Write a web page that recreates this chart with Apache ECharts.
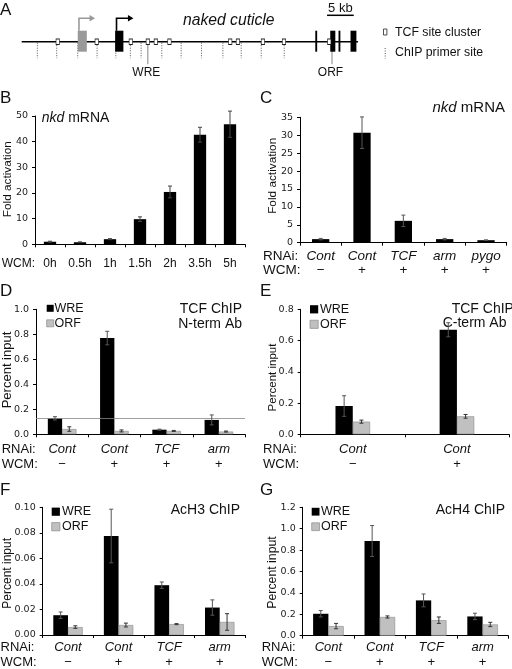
<!DOCTYPE html>
<html><head><meta charset="utf-8">
<script src="https://cdn.jsdelivr.net/npm/echarts@6/dist/echarts.min.js"></script>
<style>html,body{margin:0;padding:0;background:#fff}#c{width:512px;height:669px}</style>
</head><body><div id="c"></div>
<script>
// ---------- Panel A: nkd locus (positions in kb) ----------
var locusKb = [0, 63];
var tcfSitesKb = [6.75, 14.06, 20.44, 23.63, 25.13, 27.68, 39.06, 40.5, 45.19, 49.13, 57.62];
var primerSitesKb = [2.93, 6.56, 10.5, 14.12, 17.63, 20.36, 22.37, 23.63, 26.25, 29.87, 33.68, 37.69, 41.12, 44.87, 49.18, 58.13];
var primerLabels = ['', '', '', '', '', '', '', 'WRE', '', '', '', '', '', '', '', 'ORF'];
var exonsKb = [[10.5, 12.2], [17.5, 19.05], [55.0, 55.35], [57.8, 58.75], [59.35, 59.7], [61.6, 62.7]];
var exonShade = [0, 1, 1, 1, 1, 1];          // 0 = alternative (gray), 1 = main (black)
var promotersKb = [[10.6, 13.74], [17.63, 20.93]]; // [TSS, arrow tip]
var promoterShade = [0, 1];
var scaleBarKb = [57.2, 62.2];

// ---------- Panel B ----------
var bCats = ['0h', '0.5h', '1h', '1.5h', '2h', '3.5h', '5h'];
var bFold = [1.0, 0.8, 2.0, 9.8, 20.4, 42.7, 46.8];
var bFoldErr = [0.2, 0.15, 0.2, 0.9, 2.3, 2.9, 5.1];
var bTicks = [0, 10, 20, 30, 40, 50];

// ---------- Panel C ----------
var cRNAi = ['Cont', 'Cont', 'TCF', 'arm', 'pygo'];
var cWCM = ['\u2212', '+', '+', '+', '+'];
var cFold = [1.0, 30.7, 6.1, 1.0, 0.7];
var cFoldErr = [0.2, 4.4, 1.6, 0.2, 0.1];
var cTicks = [0, 5, 10, 15, 20, 25, 30, 35];

// ---------- Panel D ----------
var dRNAi = ['Cont', 'Cont', 'TCF', 'arm'];
var dWCM = ['\u2212', '+', '+', '+'];
var dWRE = [0.128, 0.770, 0.037, 0.115];
var dWREErr = [0.013, 0.054, 0.004, 0.040];
var dORF = [0.042, 0.027, 0.027, 0.022];
var dORFErr = [0.018, 0.008, 0.004, 0.004];
var dThreshold = 0.133;
var dTicks = [0, 0.2, 0.4, 0.6, 0.8, 1.0];

// ---------- Panel E ----------
var eRNAi = ['Cont', 'Cont'];
var eWCM = ['\u2212', '+'];
var eWRE = [0.181, 0.669];
var eWREErr = [0.066, 0.045];
var eORF = [0.081, 0.115];
var eORFErr = [0.010, 0.012];
var eTicks = [0, 0.2, 0.4, 0.6, 0.8];

// ---------- Panel F ----------
var fRNAi = ['Cont', 'Cont', 'TCF', 'arm'];
var fWCM = ['\u2212', '+', '+', '+'];
var fWRE = [0.0155, 0.0775, 0.0390, 0.0215];
var fWREErr = [0.0025, 0.0210, 0.0025, 0.0060];
var fORF = [0.0062, 0.0078, 0.0085, 0.0102];
var fORFErr = [0.0010, 0.0015, 0.0004, 0.0065];
var fTicks = [0, 0.02, 0.04, 0.06, 0.08, 0.10];

// ---------- Panel G ----------
var gRNAi = ['Cont', 'Cont', 'TCF', 'arm'];
var gWCM = ['\u2212', '+', '+', '+'];
var gWRE = [0.205, 0.885, 0.330, 0.180];
var gWREErr = [0.030, 0.145, 0.060, 0.030];
var gORF = [0.090, 0.175, 0.145, 0.105];
var gORFErr = [0.025, 0.010, 0.030, 0.020];
var gTicks = [0, 0.2, 0.4, 0.6, 0.8, 1.0, 1.2];

// ================= build =================
var SANS = 'Liberation Sans';
var TICKF = 'DejaVu Sans';
var GRAY = '#c0c0c0';

var grids = [
  {left: 21.7, top: 11.7, width: 336.3, height: 60},
  {left: 35, top: 116, width: 210, height: 128.3},
  {left: 300, top: 117.3, width: 206.7, height: 125.4},
  {left: 36, top: 309.3, width: 209, height: 125},
  {left: 300.7, top: 309.3, width: 208.3, height: 125},
  {left: 42.7, top: 507.3, width: 202.3, height: 127.7},
  {left: 302.7, top: 507.3, width: 205.6, height: 128.4}
];
grids.forEach(function (g) { g.outerBoundsMode = 'none'; g.containLabel = false; });

var xAxes = [], yAxes = [], series = [];

// Panel A axes (hidden)
xAxes.push({type: 'value', gridIndex: 0, min: locusKb[0], max: locusKb[1], show: false});
yAxes.push({type: 'value', gridIndex: 0, min: -1.5, max: 1.5, show: false});

function yAx(gi, ticks, dec) {
  var step = ticks[1] - ticks[0];
  return {type: 'value', gridIndex: gi, min: ticks[0], max: ticks[ticks.length - 1], interval: step,
    axisLine: {show: true, lineStyle: {color: '#000', width: 1}},
    axisTick: {show: true, length: 3, lineStyle: {color: '#000'}},
    splitLine: {show: false},
    axisLabel: {fontFamily: TICKF, fontSize: 9.5, color: '#222', margin: 7,
      formatter: function (v) { return (+v).toFixed(dec); }}};
}
function xAxTwo(gi, rnai, wcm, margin, lh, fs) {
  return {type: 'category', gridIndex: gi, data: rnai.map(function (_, i) { return String(i); }),
    axisLine: {lineStyle: {color: '#000', width: 1}},
    axisTick: {show: true, length: 3, lineStyle: {color: '#000'}},
    axisLabel: {interval: 0, margin: margin, color: '#111',
      formatter: function (v, i) { return '{a|' + rnai[i] + '}\n{b|' + wcm[i] + '}'; },
      rich: {a: {fontFamily: SANS, fontStyle: 'italic', fontSize: fs, lineHeight: lh, color: '#111'},
             b: {fontFamily: SANS, fontSize: fs, lineHeight: lh, color: '#111'}}}};
}

function errSeries(gi, vals, errs, offset, color) {
  return {type: 'custom', xAxisIndex: gi, yAxisIndex: gi, silent: true, z: 6,
    encode: {x: 0, y: [1, 2]},
    data: vals.map(function (v, i) { return [i, Math.max(0, v - errs[i]), v + errs[i]]; }),
    renderItem: function (params, api) {
      var lo = api.coord([api.value(0), api.value(1)]);
      var hi = api.coord([api.value(0), api.value(2)]);
      var x = lo[0] + offset, c = 2;
      var st = {stroke: color, lineWidth: 1};
      return {type: 'group', children: [
        {type: 'line', shape: {x1: x, y1: lo[1], x2: x, y2: hi[1]}, style: st},
        {type: 'line', shape: {x1: x - c, y1: hi[1], x2: x + c, y2: hi[1]}, style: st},
        {type: 'line', shape: {x1: x - c, y1: lo[1], x2: x + c, y2: lo[1]}, style: st}
      ]};
    }};
}
function barS(gi, name, vals, bw, color, border) {
  return {type: 'bar', name: name, xAxisIndex: gi, yAxisIndex: gi, data: vals, barWidth: bw, barGap: '0%',
    silent: true, itemStyle: {color: color, borderColor: border || color, borderWidth: border ? 0.6 : 0}};
}

// ---- Panel A series ----
series.push({type: 'line', xAxisIndex: 0, yAxisIndex: 0, silent: true, symbol: 'none', z: 2,
  data: [[locusKb[0], 0], [locusKb[1], 0]], lineStyle: {color: '#000', width: 1.5}});
series.push({type: 'custom', xAxisIndex: 0, yAxisIndex: 0, silent: true, z: 1,
  data: primerSitesKb.map(function (k, i) { return [k, i]; }),
  renderItem: function (params, api) {
    var p = api.coord([api.value(0), 0]);
    var lab = primerLabels[api.value(1)];
    if (!lab) {
      return {type: 'line', shape: {x1: p[0], y1: p[1] + 1, x2: p[0], y2: p[1] + 16.5},
        style: {stroke: '#555', lineWidth: 1, lineDash: [1, 1.5]}};
    }
    return {type: 'group', children: [
      {type: 'line', shape: {x1: p[0], y1: p[1] + 1, x2: p[0], y2: p[1] + 22.5},
        style: {stroke: '#666', lineWidth: 0.8}},
      {type: 'text', x: p[0] - 1.5, y: p[1] + 30.5,
        style: {text: lab, fontFamily: SANS, fontSize: 12, fill: '#111', align: 'center', verticalAlign: 'middle'}}
    ]};
  }});
series.push({type: 'custom', xAxisIndex: 0, yAxisIndex: 0, silent: true, z: 3,
  data: exonsKb.map(function (e, i) { return [e[0], e[1], exonShade[i]]; }),
  renderItem: function (params, api) {
    var s = api.coord([api.value(0), 0]), e = api.coord([api.value(1), 0]);
    return {type: 'rect', shape: {x: s[0], y: s[1] - 11, width: Math.max(e[0] - s[0], 1.6), height: 21},
      style: {fill: api.value(2) === 0 ? '#999' : '#000'}};
  }});
series.push({type: 'custom', xAxisIndex: 0, yAxisIndex: 0, silent: true, z: 3,
  data: promotersKb.map(function (p, i) { return [p[0], p[1], promoterShade[i]]; }),
  renderItem: function (params, api) {
    var s = api.coord([api.value(0), 0]), t = api.coord([api.value(1), 0]);
    var col = api.value(2) === 0 ? '#999' : '#000';
    var y = s[1] - 23.4;
    return {type: 'group', children: [
      {type: 'polyline', shape: {points: [[s[0] + 0.7, s[1] - 11], [s[0] + 0.7, y], [t[0] - 5, y]]},
        style: {stroke: col, lineWidth: 1.6, fill: null}},
      {type: 'polygon', shape: {points: [[t[0] - 5.5, y - 3.2], [t[0], y], [t[0] - 5.5, y + 3.2]]},
        style: {fill: col}}
    ]};
  }});
series.push({type: 'scatter', xAxisIndex: 0, yAxisIndex: 0, silent: true, z: 5,
  data: tcfSitesKb.map(function (k) { return [k, 0]; }),
  symbol: 'rect', symbolSize: [3.4, 5.4],
  itemStyle: {color: '#fff', borderColor: '#222', borderWidth: 0.8, opacity: 1}});
series.push({type: 'custom', xAxisIndex: 0, yAxisIndex: 0, silent: true, z: 3,
  data: [[scaleBarKb[0], scaleBarKb[1]]],
  renderItem: function (params, api) {
    var a = api.coord([api.value(0), 0]), b = api.coord([api.value(1), 0]);
    var y = a[1] - 26.4;
    return {type: 'group', children: [
      {type: 'line', shape: {x1: a[0], y1: y, x2: b[0], y2: y}, style: {stroke: '#000', lineWidth: 1.5}},
      {type: 'text', x: (a[0] + b[0]) / 2, y: y - 6.5,
        style: {text: '5 kb', fontFamily: SANS, fontSize: 13, fill: '#111', align: 'center', verticalAlign: 'middle'}}
    ]};
  }});

// ---- Panel B ----
xAxes.push({type: 'category', gridIndex: 1, data: bCats,
  axisLine: {lineStyle: {color: '#000', width: 1}},
  axisTick: {show: true, length: 3, lineStyle: {color: '#000'}},
  axisLabel: {interval: 0, margin: 13.4, fontFamily: SANS, fontSize: 12, lineHeight: 12, color: '#111'}});
yAxes.push(yAx(1, bTicks, 0));
series.push(barS(1, 'fold', bFold, 12.3, '#000'));
series.push(errSeries(1, bFold, bFoldErr, 0, '#444'));

// ---- Panel C ----
xAxes.push(xAxTwo(2, cRNAi, cWCM, 7, 14, 13.5));
yAxes.push(yAx(2, cTicks, 0));
series.push(barS(2, 'foldC', cFold, 17.3, '#000'));
series.push(errSeries(2, cFold, cFoldErr, 0, '#555'));

// ---- Panels D-G ----
function pairPanel(gi, rnai, wcm, wre, wreErr, orf, orfErr, ticks, dec, bw, margin, lh) {
  xAxes.push(xAxTwo(gi, rnai, wcm, margin, lh, 13));
  yAxes.push(yAx(gi, ticks, dec));
  var s1 = barS(gi, 'WRE', wre, bw, '#000');
  series.push(s1);
  series.push(barS(gi, 'ORF', orf, bw, GRAY, '#8a8a8a'));
  series.push(errSeries(gi, wre, wreErr, -bw / 2, '#555'));
  series.push(errSeries(gi, orf, orfErr, bw / 2, '#333'));
  return s1;
}
var sD = pairPanel(3, dRNAi, dWCM, dWRE, dWREErr, dORF, dORFErr, dTicks, 1, 14.3, 7.5, 15);
sD.markLine = {silent: true, symbol: 'none', label: {show: false},
  lineStyle: {color: '#888', width: 0.8, type: 'solid'}, data: [{yAxis: dThreshold}]};
pairPanel(4, eRNAi, eWCM, eWRE, eWREErr, eORF, eORFErr, eTicks, 1, 17.3, 7.5, 15);
pairPanel(5, fRNAi, fWCM, fWRE, fWREErr, fORF, fORFErr, fTicks, 2, 14.7, 5.4, 14.6);
pairPanel(6, gRNAi, gWCM, gWRE, gWREErr, gORF, gORFErr, gTicks, 1, 15.3, 4.7, 14.6);

// ---- text / legend graphics ----
var graphics = [];
function txt(x, y, text, opts) {
  opts = opts || {};
  var st = {text: text, fontFamily: SANS, fontSize: opts.fs || 13, fontStyle: opts.italic ? 'italic' : 'normal',
    fill: opts.fill || '#111', align: opts.align || 'left', verticalAlign: 'middle',
    textAlign: opts.align || 'left', textVerticalAlign: 'middle'};
  if (opts.rich) st.rich = opts.rich;
  var el = {type: 'text', x: x, y: y, silent: true, style: st};
  if (opts.rot) el.rotation = Math.PI / 2;
  graphics.push(el);
}
function box(x, y, w, h, fill, stroke) {
  graphics.push({type: 'rect', silent: true, shape: {x: x, y: y, width: w, height: h},
    style: {fill: fill, stroke: stroke || null, lineWidth: stroke ? 0.7 : 0}});
}
// panel letters
txt(0, 10, 'A', {fs: 17}); txt(0, 98.3, 'B', {fs: 17}); txt(260, 98.3, 'C', {fs: 17});
txt(0, 291, 'D', {fs: 17}); txt(260, 291, 'E', {fs: 17});
txt(0, 490, 'F', {fs: 17}); txt(260, 490, 'G', {fs: 17});
// panel A texts
txt(183, 21, 'naked cuticle', {fs: 15.7, italic: true});
graphics.push({type: 'rect', silent: true, shape: {x: 383.5, y: 29, width: 3.4, height: 6},
  style: {fill: '#fff', stroke: '#222', lineWidth: 0.8}});
txt(395, 32.5, 'TCF site cluster', {fs: 12.3});
graphics.push({type: 'line', silent: true, shape: {x1: 385.2, y1: 48, x2: 385.2, y2: 58.5},
  style: {stroke: '#555', lineWidth: 1, lineDash: [1, 1.5]}});
txt(395, 53, 'ChIP primer site', {fs: 12.3});
// titles
var ital = {i: {fontStyle: 'italic', fontFamily: SANS}};
txt(41.7, 118, '{i|nkd} mRNA', {fs: 14, rich: {i: {fontStyle: 'italic', fontFamily: SANS, fontSize: 14}}});
txt(505, 108.3, '{i|nkd} mRNA', {fs: 15, align: 'right', rich: {i: {fontStyle: 'italic', fontFamily: SANS, fontSize: 15}}});
txt(242, 309, 'TCF ChIP', {fs: 14, align: 'right'});
txt(242, 324.3, 'N-term Ab', {fs: 14, align: 'right'});
txt(451.7, 309.3, 'TCF ChIP', {fs: 14});
txt(442.7, 323.3, 'C-term Ab', {fs: 14});
txt(240, 510, 'AcH3 ChIP', {fs: 14, align: 'right'});
txt(505, 510, 'AcH4 ChIP', {fs: 14, align: 'right'});
// y axis names
txt(7.5, 179.2, 'Fold activation', {fs: 11.8, align: 'center', rot: true});
txt(272.5, 175.8, 'Fold activation', {fs: 11.8, align: 'center', rot: true});
txt(7.2, 370, 'Percent input', {fs: 13, align: 'center', rot: true});
txt(272.8, 377.5, 'Percent input', {fs: 11.5, align: 'center', rot: true});
txt(7.2, 573.3, 'Percent input', {fs: 12, align: 'center', rot: true});
txt(272.3, 572.5, 'Percent input', {fs: 12.3, align: 'center', rot: true});
// row labels
txt(1.7, 263.7, 'WCM:', {fs: 12});
txt(263, 256.7, 'RNAi:', {fs: 13.5}); txt(263, 270.7, 'WCM:', {fs: 13.5});
txt(1.7, 449.3, 'RNAi:', {fs: 13}); txt(1.7, 464.3, 'WCM:', {fs: 13});
txt(263, 449.3, 'RNAi:', {fs: 13}); txt(263, 464.3, 'WCM:', {fs: 13});
txt(0.5, 647.7, 'RNAi:', {fs: 13}); txt(0.5, 662.3, 'WCM:', {fs: 13});
txt(261.7, 647.7, 'RNAi:', {fs: 13}); txt(261.7, 662.3, 'WCM:', {fs: 13});
// legends
function legend(x, y, sz, tx) {
  box(x, y - sz / 2, sz, sz, '#000');
  box(x, y + 15 - sz / 2, sz, sz, GRAY, '#8a8a8a');
  txt(tx, y, 'WRE', {fs: 12.5});
  txt(tx, y + 15, 'ORF', {fs: 12.5});
}
legend(46.7, 308.3, 7, 54.5);
legend(310, 309.3, 8.2, 320);
legend(51.7, 511.7, 8.2, 62);
legend(311.7, 511.7, 7.8, 321);

var chart = echarts.init(document.getElementById('c'), null, {renderer: 'canvas'});
chart.setOption({
  animation: false,
  backgroundColor: '#fff',
  textStyle: {fontFamily: SANS},
  grid: grids, xAxis: xAxes, yAxis: yAxes, series: series, graphic: graphics
});
</script></body></html>
